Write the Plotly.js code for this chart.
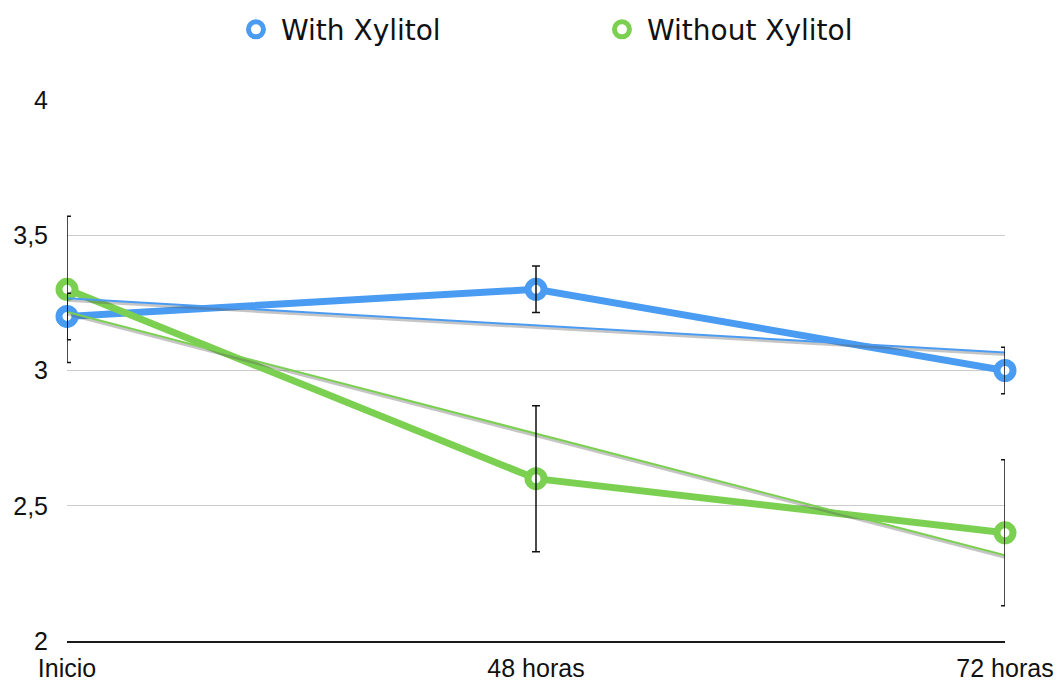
<!DOCTYPE html>
<html>
<head>
<meta charset="utf-8">
<script src="https://cdn.plot.ly/plotly-3.0.1.min.js"></script>
<style>
  html, body { margin: 0; padding: 0; background: #ffffff; }
  #chart { width: 1057px; height: 681px; }
</style>
</head>
<body>
<div id="chart"></div>
<script>
// Time points of the measurement
const categories = ['Inicio', '48 horas', '72 horas'];

// Mean values per group
const withXylitol = [3.2, 3.3, 3.0];
const withoutXylitol = [3.3, 2.6, 2.4];

// Error bar half-lengths per group
const withXylitolErr = [0.086, 0.086, 0.086];
const withoutXylitolErr = [0.27, 0.27, 0.27];

// Y axis ticks (comma decimal separator)
const yTickVals = [2, 2.5, 3, 3.5, 4];
const yTickText = ['2', '2,5', '3', '3,5', '4'];

const BLUE = '#4a9bf2';
const GREEN = '#7bd051';

// Least-squares linear trend evaluated at each category index
function linearTrend(values) {
  const n = values.length;
  const xs = values.map((_, i) => i);
  const mx = xs.reduce((a, b) => a + b, 0) / n;
  const my = values.reduce((a, b) => a + b, 0) / n;
  let num = 0, den = 0;
  for (let i = 0; i < n; i++) {
    num += (xs[i] - mx) * (values[i] - my);
    den += (xs[i] - mx) * (xs[i] - mx);
  }
  const slope = num / den;
  return xs.map(x => my + slope * (x - mx));
}

const trendWith = linearTrend(withXylitol);
const trendWithout = linearTrend(withoutXylitol);

const ringMarker = color => ({ symbol: 'circle', size: 16, color: '#ffffff', line: { color: color, width: 7 } });

function seriesTrace(name, values, color) {
  return {
    type: 'scatter', mode: 'lines+markers', name: name, legendgroup: name, showlegend: false,
    x: categories, y: values, cliponaxis: false,
    line: { color: color, width: 7 },
    marker: ringMarker(color)
  };
}

// Marker-only legend entries
function legendEntry(name, color) {
  return {
    type: 'scatter', mode: 'markers', name: name, legendgroup: name, showlegend: true,
    x: [null], y: [null], hoverinfo: 'skip',
    marker: { symbol: 'circle', size: 15, color: '#ffffff', line: { color: color, width: 6 } }
  };
}

function trendTrace(values, color, width) {
  return {
    type: 'scatter', mode: 'lines', showlegend: false, hoverinfo: 'skip',
    x: categories, y: values, cliponaxis: false,
    line: { color: color, width: width }
  };
}

function errorTrace(values, errs) {
  return {
    type: 'scatter', mode: 'markers', showlegend: false, hoverinfo: 'skip',
    x: categories, y: values, cliponaxis: false,
    marker: { size: 1, color: 'rgba(0,0,0,0)' },
    error_y: { type: 'data', array: errs, visible: true, color: '#111111', thickness: 1.5, width: 4 }
  };
}

const data = [
  seriesTrace('With Xylitol', withXylitol, BLUE),
  seriesTrace('Without Xylitol', withoutXylitol, GREEN),
  trendTrace(trendWith, 'rgba(90,90,90,0.35)', 3),    // shadow
  trendTrace(trendWithout, 'rgba(90,90,90,0.35)', 3), // shadow
  trendTrace(trendWith, BLUE, 2),
  trendTrace(trendWithout, GREEN, 2),
  errorTrace(withXylitol, withXylitolErr),
  errorTrace(withoutXylitol, withoutXylitolErr),
  legendEntry('With Xylitol', BLUE),
  legendEntry('Without Xylitol', GREEN)
];

const tickFont = { family: '"Liberation Sans", Arial, Helvetica, sans-serif', size: 25, color: '#111111' };

const layout = {
  width: 1057, height: 681,
  margin: { l: 67, r: 52, t: 100, b: 40, autoexpand: false },
  paper_bgcolor: '#ffffff', plot_bgcolor: '#ffffff',
  showlegend: true,
  legend: {
    orientation: 'h', x: 0.565, xanchor: 'center', y: 1.13, yanchor: 'middle',
    font: { family: '"DejaVu Sans", Verdana, sans-serif', size: 28, color: '#111111' },
    entrywidth: 311, entrywidthmode: 'pixels', itemwidth: 40,
    bgcolor: 'rgba(0,0,0,0)'
  },
  xaxis: {
    type: 'category', range: [0, 2], fixedrange: true,
    showgrid: false, zeroline: false,
    showline: true, linecolor: '#1a1a1a', linewidth: 1.5,
    ticks: '', tickfont: tickFont, ticklabelstandoff: 4
  },
  yaxis: {
    range: [2, 4], fixedrange: true,
    tickmode: 'array', tickvals: yTickVals, ticktext: yTickText,
    showgrid: true, gridcolor: '#cccccc', gridwidth: 1,
    zeroline: false, showline: false,
    ticks: '', tickfont: tickFont, ticklabelstandoff: 18
  }
};

Plotly.newPlot('chart', data, layout, { displayModeBar: false, staticPlot: true }).then(() => {
  // Offset the trend shadows slightly downward
  const traces = document.querySelectorAll('.scatterlayer .trace');
  [2, 3].forEach(i => {
    if (traces[i]) traces[i].style.transform = 'translate(0px, 2px)';
  });
});
</script>
</body>
</html>
